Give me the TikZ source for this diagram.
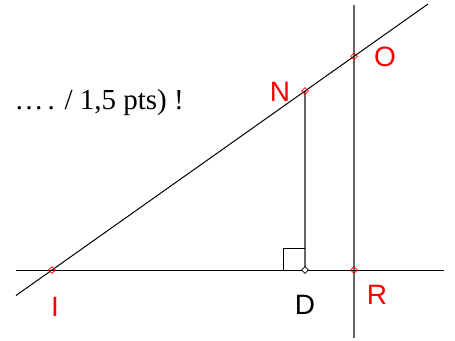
\documentclass[tikz,border=0pt]{standalone}
\usepackage{fontspec}
\setmainfont{Liberation Serif}
\setsansfont{Liberation Sans}
\usetikzlibrary{shapes.geometric}
\begin{document}
\begin{tikzpicture}[x=1pt,y=-1pt,
  pt/.style={diamond,draw=#1,inner sep=0pt,minimum size=7pt,line width=0.6pt},
  lab/.style={font=\sffamily\fontsize{28}{28}\selectfont,text=#1,inner sep=0pt},
  thin/.style={line width=1pt},
  grayline/.style={line width=1.1pt,draw=black!60}]
\useasboundingbox (0,0) rectangle (455,340);
% points
\coordinate (I) at (52,270);
\coordinate (D) at (305,270);
\coordinate (R) at (354,270);
\coordinate (N) at (305,91);
\coordinate (O) at (354,56.3);
\coordinate (Ilow) at (16,295.5);
\coordinate (Ohigh) at (428,4);
\coordinate (Hleft) at (16,270);
\coordinate (Hright) at (444,270);
\coordinate (Vtop) at (354,5);
\coordinate (Vbot) at (354,338);
% lines
\draw[grayline] (Vtop) -- (Vbot);
\draw[grayline] (N) -- (D);
\draw[thin] (Hleft) -- (Hright);
\draw[thin] (Ilow) -- (Ohigh);
% right angle
\coordinate (A1) at (283,270);
\coordinate (A2) at (283,248);
\coordinate (A3) at (305,248);
\draw[line width=0.9pt] (A1) -- (A2) -- (A3);
% markers
\node[pt=red] (mI) at (I) {};
\node[pt=red] (mN) at (N) {};
\node[pt=red] (mO) at (O) {};
\node[pt=red] (mR) at (R) {};
\node[pt=black,fill=white] (mD) at (D) {};
% labels
\node[lab=red] (lN) at (280,92) {N};
\node[lab=red] (lO) at (385,57) {O};
\node[lab=red] (lR) at (377,295) {R};
\node[lab=black] (lD) at (305,305) {D};
\node[lab=red] (lI) at (55,307) {I};
% text
\node[anchor=base east,inner sep=0pt,font=\fontsize{29}{29}\selectfont] (txt) at (184,109) {…\kern4pt. / 1,5 pts) !};
\end{tikzpicture}
\end{document}
